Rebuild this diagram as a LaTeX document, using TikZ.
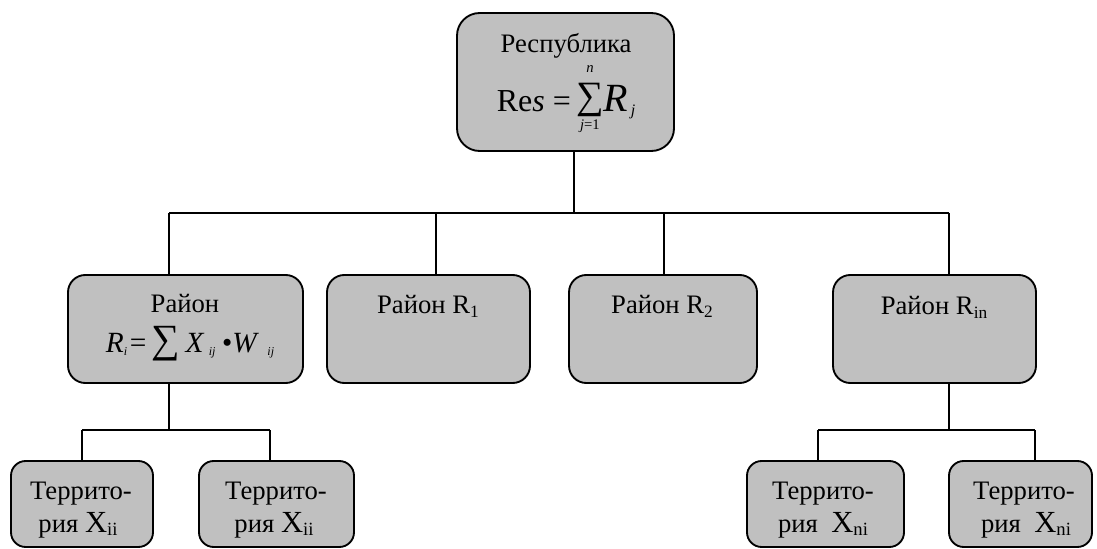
\documentclass[tikz,border=0pt]{standalone}
\usepackage{fontspec}
\setmainfont{Liberation Serif}
\usetikzlibrary{fit}
\definecolor{boxgray}{HTML}{C0C0C0}
\newcommand\mysb[2][13]{\raisebox{-2.5pt}{\fontsize{#1}{#1}\selectfont #2}}
\newsavebox\sumbox
\newcommand\bigsum[2]{\sbox\sumbox{\raisebox{2.5pt}{\fontsize{29}{29}\selectfont ∑}}%
  \rlap{\makebox[\wd\sumbox]{\raisebox{29.5pt}{\fontsize{11}{11}\selectfont #2}}}%
  \rlap{\makebox[\wd\sumbox]{\raisebox{-13.5pt}{\fontsize{11}{11}\selectfont #1}}}%
  \usebox\sumbox}
\tikzset{
  box/.style={draw=black, line width=1.4pt, fill=boxgray, rounded corners=#1, inner sep=0pt},
  box/.default=13pt,
  conn/.style={draw=black, line width=1.1pt},
  txt/.style={anchor=base, inner sep=0pt, font=\fontsize{20}{24}\selectfont}
}
\begin{document}
\begin{tikzpicture}[x=0.75pt, y=-0.75pt]
\clip (0,0) rectangle (1097,549);
% boxes
\node[box=17pt, fit={(457,13) (674,151)}] (top) {};
\node[box, fit={(68,275) (303,383)}] (r0) {};
\node[box, fit={(327,275) (530,383)}] (r1) {};
\node[box, fit={(569,275) (757,383)}] (r2) {};
\node[box, fit={(833,275) (1036,383)}] (r3) {};
\node[box=11pt, fit={(11,461) (153,547)}] (t1) {};
\node[box=11pt, fit={(199,461) (354,547)}] (t2) {};
\node[box=11pt, fit={(747,461) (904,547)}] (t3) {};
\node[box=11pt, fit={(949,461) (1092,547)}] (t4) {};
% junctions
\coordinate (j0) at (574,213);
\coordinate (jL) at (169,213);
\coordinate (jR) at (949,213);
\coordinate (d1) at (436,213);
\coordinate (d2) at (664,213);
\coordinate (k0) at (169,430);
\coordinate (kL) at (82,430);
\coordinate (kR) at (270,430);
\coordinate (m0) at (949,430);
\coordinate (mL) at (818,430);
\coordinate (mR) at (1035,430);
% connectors
\draw[conn] (top.south -| j0) -- (j0);
\draw[conn] (jL) -- (jR);
\draw[conn] (jL) -- (jL |- r0.north);
\draw[conn] (d1) -- (d1 |- r1.north);
\draw[conn] (d2) -- (d2 |- r2.north);
\draw[conn] (jR) -- (jR |- r3.north);
\draw[conn] (r0.south -| k0) -- (k0);
\draw[conn] (kL) -- (kR);
\draw[conn] (kL) -- (kL |- t1.north);
\draw[conn] (kR) -- (kR |- t2.north);
\draw[conn] (r3.south -| m0) -- (m0);
\draw[conn] (mL) -- (mR);
\draw[conn] (mL) -- (mL |- t3.north);
\draw[conn] (mR) -- (mR |- t4.north);
% texts
\node[txt] (toptxt) at (566,53) {Республика};
\node[txt] (topf) at (566,112) {\fontsize{24}{24}\selectfont Re\textit{s} =\hspace{4pt}\bigsum{\itshape j\upshape=1}{\itshape n}\fontsize{30}{30}\selectfont\itshape R\hspace{2pt}\raisebox{-3pt}{\fontsize{12}{12}\selectfont j}};
\node[txt] (r0txt) at (185,313) {Район};
\node[txt] (r0f) at (190,352) {\fontsize{22}{22}\selectfont\itshape R\mysb[9]{i}\hspace{2pt}\upshape=\hspace{4pt}{\fontsize{30}{30}\selectfont ∑}\hspace{4pt}\itshape X\hspace{4pt}\mysb[9]{ij}\hspace{5pt}\upshape•\itshape W\hspace{8pt}\mysb[9]{ij}};
\node[txt] (r1txt) at (428,314) {Район R\mysb{1}};
\node[txt] (r2txt) at (662,314) {Район R\mysb{2}};
\node[txt] (r3txt) at (934,315) {Район R\mysb{in}};
\node[txt] (t1a) at (81,499) {Террито-};
\node[txt] (t1b) at (78,532) {рия {\fontsize{23}{23}\selectfont X}\mysb[14]{ii}};
\node[txt] (t2a) at (276,499) {Террито-};
\node[txt] (t2b) at (274,532) {рия {\fontsize{23}{23}\selectfont X}\mysb[14]{ii}};
\node[txt] (t3a) at (823,499) {Террито-};
\node[txt] (t3b) at (823,532) {рия\ \ {\fontsize{23}{23}\selectfont X}\mysb[14]{ni}};
\node[txt] (t4a) at (1024,499) {Террито-};
\node[txt] (t4b) at (1026,532) {рия\ \ {\fontsize{23}{23}\selectfont X}\mysb[14]{ni}};
\end{tikzpicture}
\end{document}
